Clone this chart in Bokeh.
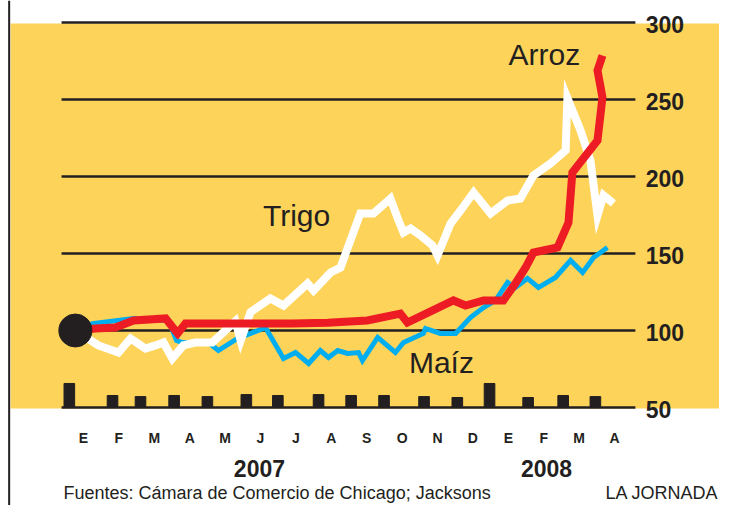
from bokeh.plotting import figure
from bokeh.models import Span, BoxAnnotation
from bokeh.core.properties import value
from bokeh.embed import file_html
from bokeh.resources import INLINE

# ---------------- data ----------------
meses = ["E", "F", "M", "A", "M", "J", "J", "A", "S", "O", "N", "D", "E", "F", "M", "A"]
mes_idx = list(range(16))
anios = ["2007", "2008"]
anio_pos = [4.97, 13.08]
y_ticks = [50, 100, 150, 200, 250, 300]

arroz_x = [-0.23, 0.34, 0.90, 1.41, 2.32, 2.66, 2.88, 3.90, 4.86, 5.90, 6.90, 8.02, 8.95, 9.15,
           10.45, 10.79, 11.30, 11.86, 12.20, 12.49, 12.71, 13.39, 13.70, 13.81, 14.52, 14.66,
           14.52, 14.66]
arroz_y = [100, 101.3, 101.9, 106.5, 107.8, 98.1, 104.5, 104.5, 104.5, 104.5, 105.0, 106.5, 111.0,
           105.2, 119.5, 116.2, 119.5, 119.5, 130.5, 140.9, 150.6, 153.9, 170.1, 202.6, 223.4,
           251.3, 268.8, 278.6]

trigo_x = [-0.23, 0.42, 0.99, 1.33, 1.75, 2.03, 2.26, 2.51, 2.82, 3.16, 3.64, 4.29, 4.44, 4.72,
           5.28, 5.65, 6.33, 6.50, 6.98, 7.26, 7.82, 8.19, 8.67, 8.90, 9.04, 9.24, 9.52, 9.86,
           10.00, 10.37, 10.65, 11.02, 11.50, 11.98, 12.34, 12.71, 13.19, 13.62, 13.67, 14.04,
           14.32, 14.52, 14.69, 14.97]
trigo_y = [100, 90.3, 85.7, 94.8, 88.3, 90.3, 92.2, 81.8, 90.3, 92.2, 92.2, 106.0, 93.5, 112.0,
           120.8, 116.2, 130.5, 126.0, 137.7, 140.9, 176.0, 176.0, 185.7, 171.4, 163.6, 166.2,
           161.7, 155.2, 148.7, 169.5, 177.9, 189.6, 176.0, 184.4, 185.7, 200.6, 208.4, 216.9,
           251.0, 229.9, 210.4, 174.7, 187.7, 182.5]

maiz_x = [-0.23, 0.25, 1.41, 2.40, 2.63, 2.80, 3.16, 3.53, 3.81, 4.35, 4.72, 5.14, 5.65, 5.99,
          6.36, 6.69, 6.92, 7.18, 7.46, 7.77, 7.88, 8.31, 8.81, 9.04, 9.60, 9.66, 10.08, 10.51,
          10.93, 11.30, 11.64, 11.98, 12.20, 12.54, 12.85, 13.33, 13.76, 14.10, 14.41, 14.80]
maiz_y = [100, 104.5, 107.8, 106.5, 93.5, 92.2, 91.6, 92.2, 87.0, 94.8, 98.1, 101.9, 81.8, 85.7,
          78.6, 87.0, 82.5, 87.0, 85.1, 85.7, 80.5, 95.5, 85.7, 92.2, 98.1, 101.3, 98.1, 98.1,
          108.4, 114.9, 119.5, 131.2, 127.9, 133.8, 127.9, 134.4, 145.5, 137.7, 147.4, 153.9]

marca_x = [-0.40, 0.82, 1.61, 2.56, 3.50, 4.60, 5.49, 6.64, 7.56, 8.49, 9.62, 10.56, 11.47,
           12.56, 13.55, 14.46]
marca_top = [65.6, 57.8, 57.1, 57.8, 57.1, 58.4, 57.8, 58.4, 57.8, 57.8, 57.1, 56.5, 65.6,
             56.5, 57.8, 57.1]

# ---------------- layout ----------------
W, H = 719, 505
PXM, PXV = 35.4, 1.54          # pixels per month / per index point
X0, Y50 = 83, 407               # figure pixel of month 0 / of value 50
xr = (-X0 / PXM, (W - X0) / PXM)
yr = (50 - (H - Y50) / PXV, 50 + Y50 / PXV)

INK = "#231f20"
YELLOW = "#fdd35a"
FONT = value("Liberation Sans")

p = figure(width=W, height=H, x_range=xr, y_range=yr, x_axis_type=None, y_axis_type=None,
           toolbar_location=None, output_backend="svg", min_border=0,
           outline_line_color=None, background_fill_color="white", border_fill_color="white")

p.add_layout(BoxAnnotation(left=-2.06, bottom=49.4, top=299.4, fill_color=YELLOW,
                           fill_alpha=1, line_color=None, level="underlay"))
p.add_layout(Span(location=-2.10, dimension="height", line_color=INK, line_width=2))

# gridlines
p.segment(x0=[-0.62] * len(y_ticks), y0=y_ticks, x1=[15.59] * len(y_ticks), y1=y_ticks,
          line_color=INK, line_width=2.5)
p.text(x=[15.88] * len(y_ticks), y=y_ticks, text=[str(t) for t in y_ticks],
       text_font=FONT, text_font_size="23px", text_font_style="bold", text_color=INK,
       text_baseline="middle", y_offset=2)

# month markers
p.vbar(x=marca_x, top=marca_top, bottom=50, width=0.3, color=INK)

# series
p.line(maiz_x, maiz_y, line_color="#00aeef", line_width=5, line_join="miter")
p.line(trigo_x, trigo_y, line_color="white", line_width=8, line_join="miter")
p.line(arroz_x, arroz_y, line_color="#ed1c24", line_width=8, line_join="miter")
p.scatter(x=[arroz_x[0]], y=[arroz_y[0]], size=33, color=INK)

# series labels
p.text(x=[13.02, 6.02, 10.11], y=[279.5, 175.0, 78.9], text=["Arroz", "Trigo", "Maíz"],
       text_font=FONT, text_font_size="30px", text_color=INK, text_align="center",
       text_baseline="middle")

# x labels
p.text(x=mes_idx, y=[29.9] * len(mes_idx), text=meses, text_font=FONT, text_font_size="14px",
       text_font_style="bold", text_color=INK, text_align="center", text_baseline="middle")
p.text(x=anio_pos, y=[10.4] * len(anio_pos), text=anios, text_font=FONT, text_font_size="23px",
       text_font_style="bold", text_color=INK, text_align="center", text_baseline="middle")

# footer
p.text(x=[-0.565], y=[-5.8], text=["Fuentes: Cámara de Comercio de Chicago; Jacksons"],
       text_font=FONT, text_font_size="18px", text_color=INK, text_align="left",
       text_baseline="middle")
p.text(x=[17.94], y=[-5.8], text=["LA JORNADA"], text_font=FONT, text_font_size="18px",
       text_color=INK, text_align="right", text_baseline="middle")

open("out.html", "w").write(file_html(p, INLINE))
